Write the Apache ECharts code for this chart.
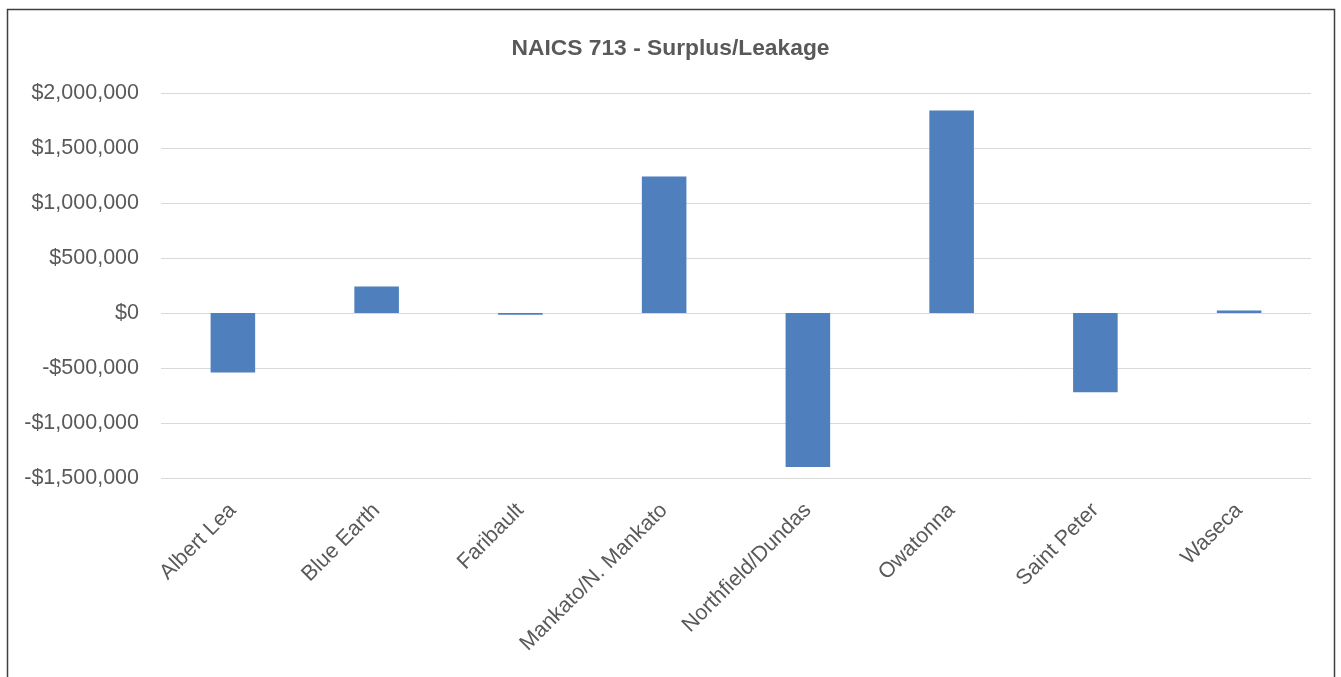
<!DOCTYPE html>
<html>
<head>
<meta charset="utf-8">
<script src="https://cdn.jsdelivr.net/npm/echarts@6/dist/echarts.min.js"></script>
<style>
  html, body { margin: 0; padding: 0; background: #ffffff; }
  #chart { width: 1341px; height: 677px; }
</style>
</head>
<body>
<div id="chart"></div>
<script>
// Surplus / leakage by community, NAICS 713
const categories = [
  'Albert Lea', 'Blue Earth', 'Faribault', 'Mankato/N. Mankato',
  'Northfield/Dundas', 'Owatonna', 'Saint Peter', 'Waseca'
];
const surplusLeakage = [-540000, 240000, -15000, 1240000, -1400000, 1840000, -720000, 22000];
const yTicks = { min: -1500000, max: 2000000, interval: 500000 };

const textColor = '#595959';
const fontFamily = '"Liberation Sans", Arial, sans-serif';

function money(v) {
  const s = Math.abs(v).toLocaleString('en-US');
  return (v < 0 ? '-$' : '$') + s;
}

const chart = echarts.init(document.getElementById('chart'), null, { renderer: 'canvas' });
chart.setOption({
  animation: false,
  backgroundColor: '#ffffff',
  title: {
    text: 'NAICS 713 - Surplus/Leakage',
    left: 'center',
    top: 32,
    textStyle: { color: textColor, fontFamily: fontFamily, fontWeight: 'bold', fontSize: 22.8 }
  },
  graphic: [{
    type: 'rect',
    shape: { x: 7.5, y: 9.5, width: 1327, height: 700 },
    style: { fill: null, stroke: '#3f3f3f', lineWidth: 1.5 },
    silent: true
  }],
  grid: { left: 161, right: 30, top: 93, bottom: 199, containLabel: false },
  xAxis: {
    type: 'category',
    data: categories,
    axisLine: { onZero: false, show: false },
    axisTick: { show: false },
    axisLabel: {
      rotate: 45,
      interval: 0,
      margin: 29,
      color: textColor,
      fontFamily: fontFamily,
      fontSize: 21.5
    }
  },
  yAxis: {
    type: 'value',
    min: yTicks.min,
    max: yTicks.max,
    interval: yTicks.interval,
    axisLine: { show: false },
    axisTick: { show: false },
    splitLine: { lineStyle: { color: '#d9d9d9', width: 1 } },
    axisLabel: {
      margin: 22,
      color: textColor,
      fontFamily: fontFamily,
      fontSize: 21.5,
      formatter: money
    }
  },
  series: [{
    type: 'bar',
    data: surplusLeakage,
    barWidth: '31%',
    itemStyle: { color: '#4f7fbd' }
  }]
});
</script>
</body>
</html>
